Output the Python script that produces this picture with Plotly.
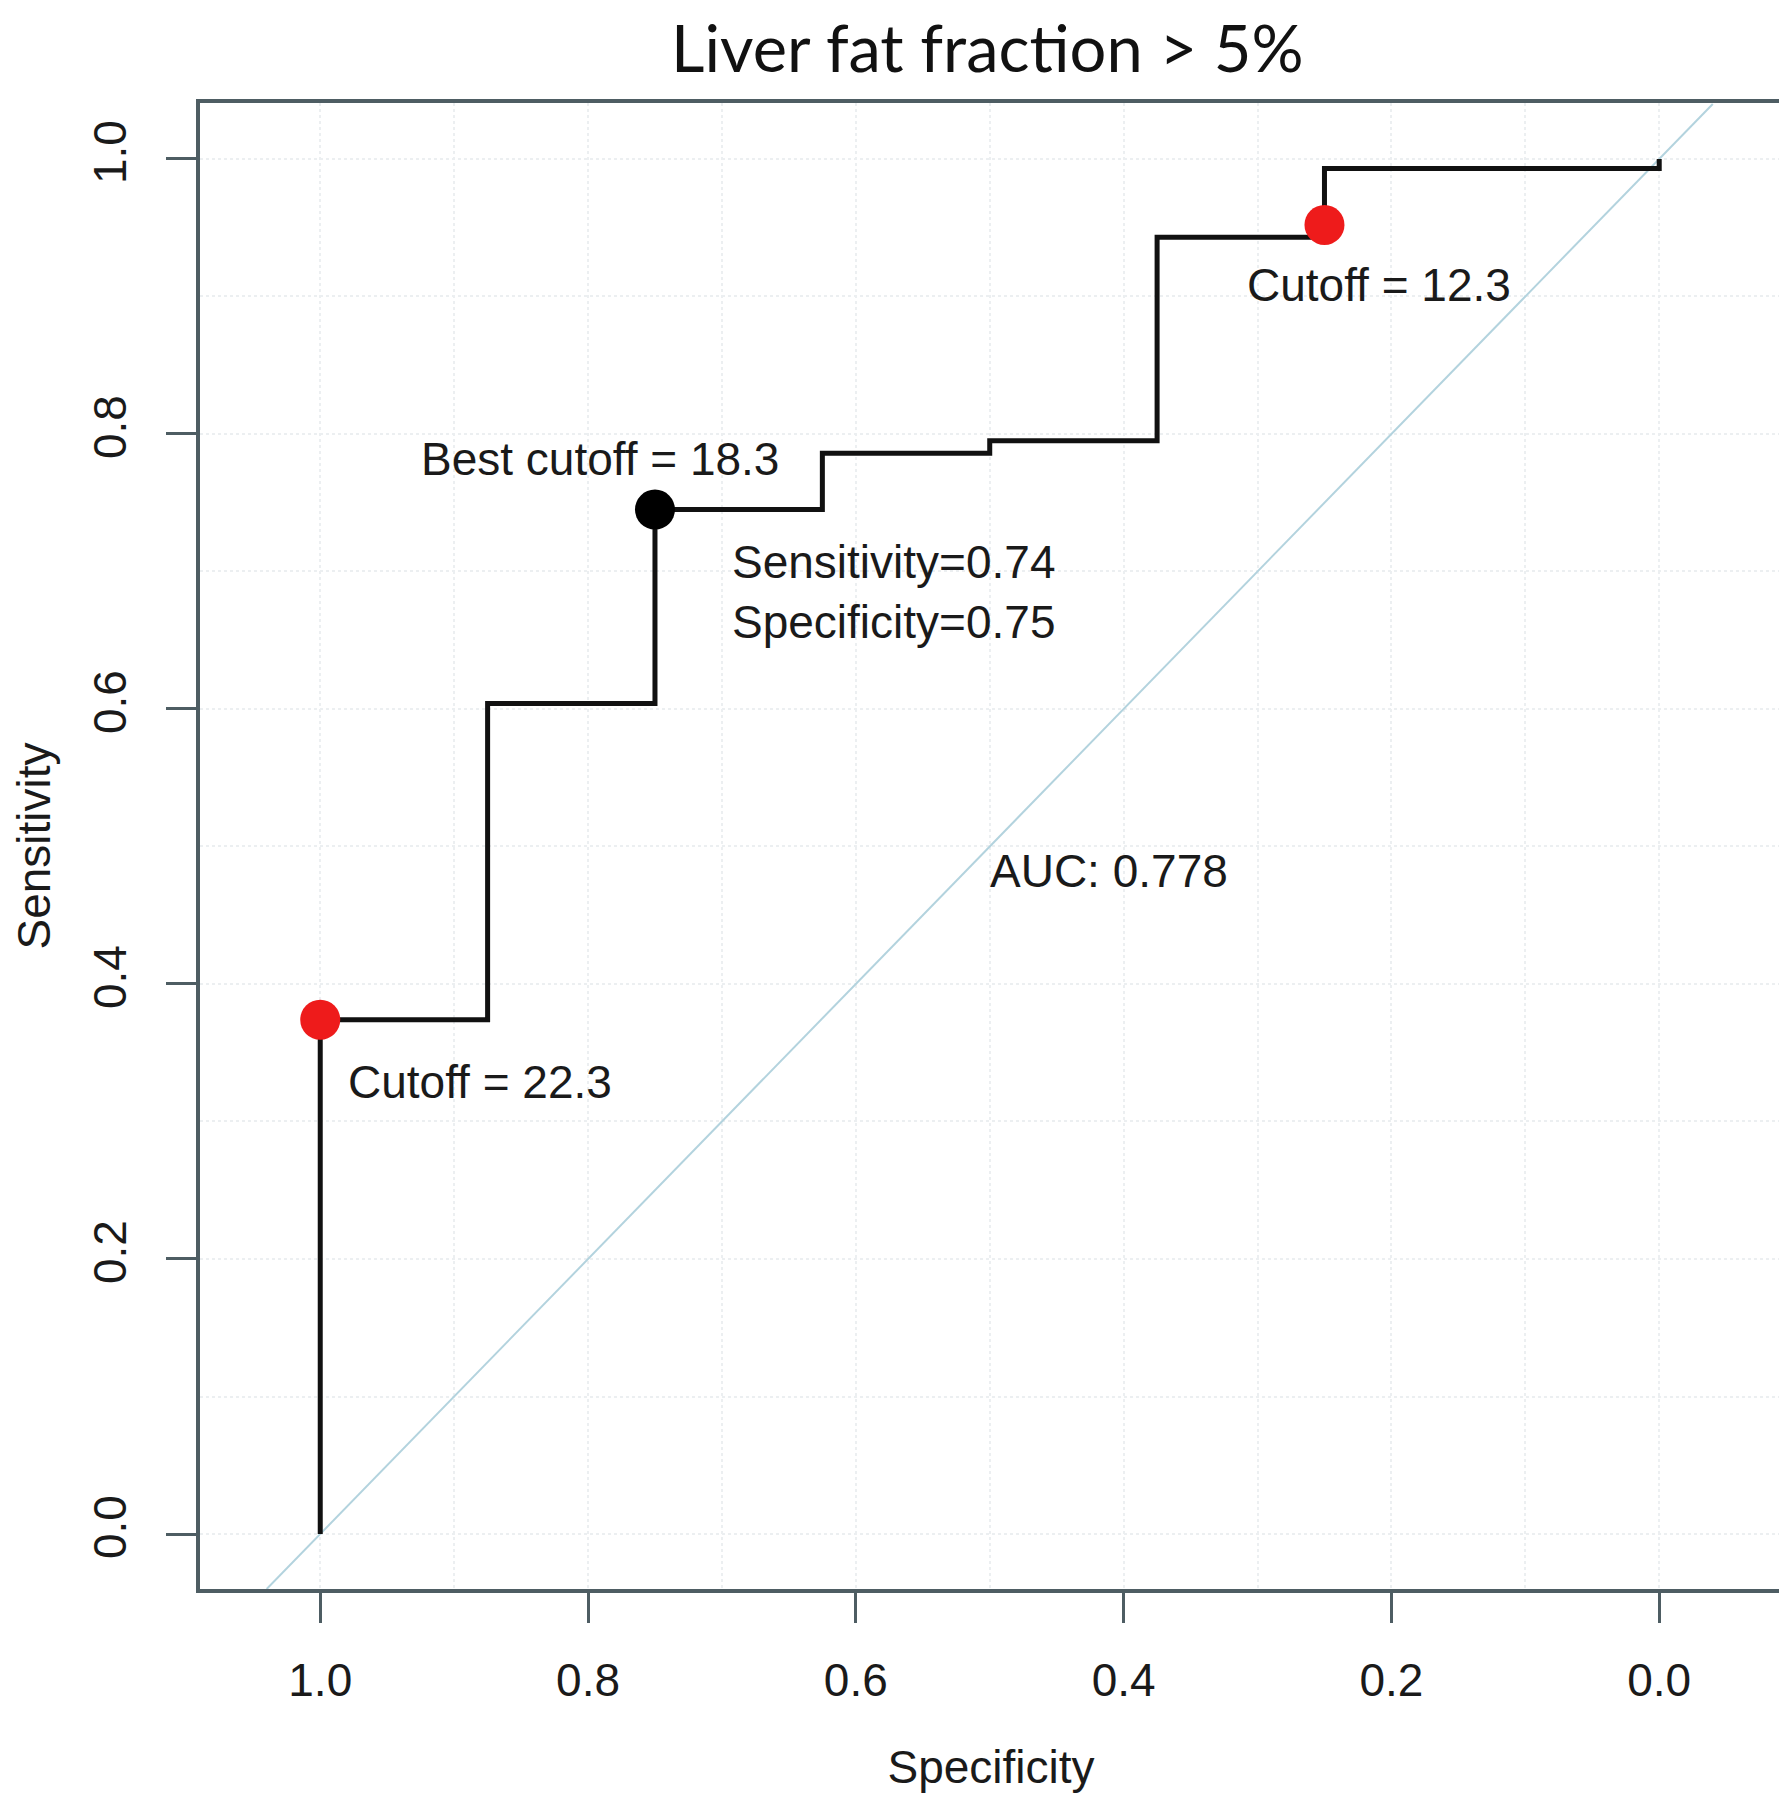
import plotly.graph_objects as go

# ROC curve (step points, specificity reversed axis)
spec = [1.0, 1.0, 0.875, 0.75, 0.625, 0.5, 0.375, 0.25, 0.0]
sens = [0.0, 0.374, 0.604, 0.745, 0.786, 0.795, 0.943, 0.993, 1.0]

# Highlighted cutoffs
cut_spec = [1.0, 0.25]
cut_sens = [0.374, 0.952]
cut_labels = ["Cutoff = 22.3", "Cutoff = 12.3"]
best_spec = [0.75]
best_sens = [0.745]

x_ticks = [1.0, 0.8, 0.6, 0.4, 0.2, 0.0]
y_ticks = [0.0, 0.2, 0.4, 0.6, 0.8, 1.0]

FONT = "Liberation Sans, Arial, sans-serif"
AXC = "#4e5d63"

fig = go.Figure()
fig.add_trace(go.Scatter(x=[1.04, -0.04], y=[-0.04, 1.04], mode="lines",
                         line=dict(color="#b3d3de", width=2), showlegend=False, hoverinfo="skip"))
fig.add_trace(go.Scatter(x=spec, y=sens, mode="lines", line=dict(color="#111111", width=5, shape="hv"),
                         showlegend=False))
fig.add_trace(go.Scatter(x=cut_spec, y=cut_sens, mode="markers",
                         marker=dict(color="#ee1b1b", size=40, line=dict(width=0)), showlegend=False))
fig.add_trace(go.Scatter(x=best_spec, y=best_sens, mode="markers",
                         marker=dict(color="#000000", size=40, line=dict(width=0)), showlegend=False))

tf = dict(family=FONT, size=46, color="#1a1a1a")
fig.add_annotation(x=0.791, y=0.782, text="Best cutoff = 18.3", showarrow=False, font=tf)
fig.add_annotation(x=0.694, y=0.685, text="Sensitivity=0.74<br>Specificity=0.75", showarrow=False,
                   font=tf, xanchor="left", align="left")
fig.add_annotation(x=0.209, y=0.908, text=cut_labels[1], showarrow=False, font=tf)
fig.add_annotation(x=0.881, y=0.329, text=cut_labels[0], showarrow=False, font=tf)
fig.add_annotation(x=0.411, y=0.482, text="AUC: 0.778", showarrow=False, font=tf)

fig.update_layout(
    width=1787, height=1800,
    margin=dict(l=192, r=9, t=95, b=219),
    paper_bgcolor="white", plot_bgcolor="white",
    title=dict(text="Liver fat fraction > 5%", x=0.548, xanchor="center", y=1 - 41 / 1800, yanchor="middle",
               font=dict(family="Lato, sans-serif", size=65, color="#111111")),
    font=dict(family=FONT, size=46, color="#1a1a1a"),
)
axis_common = dict(showline=True, linewidth=4, linecolor=AXC, mirror=True,
                   ticks="outside", ticklen=30, tickwidth=3, tickcolor=AXC,
                   showgrid=True, gridcolor="#eceff1", griddash="dot", gridwidth=1.5,
                   zeroline=False, tickfont=dict(family=FONT, size=46, color="#1a1a1a"),
                   minor=dict(dtick=0.1, showgrid=True, gridcolor="#eceff1", griddash="dot", gridwidth=1.5, ticks=""))
fig.update_xaxes(range=[1.0898, -0.0917], tickvals=x_ticks, ticktext=[f"{v:.1f}" for v in x_ticks],
                 title=dict(text="Specificity", standoff=47, font=dict(family=FONT, size=46, color="#1a1a1a")),
                 ticklabelstandoff=18, **axis_common)
fig.update_yaxes(range=[-0.04, 1.0407], tickvals=y_ticks, ticktext=[f"{v:.1f}" for v in y_ticks],
                 tickangle=-90,
                 title=dict(text="Sensitivity", standoff=25, font=dict(family=FONT, size=46, color="#1a1a1a")),
                 ticklabelstandoff=22, **axis_common)

fig.write_html("out.html")
